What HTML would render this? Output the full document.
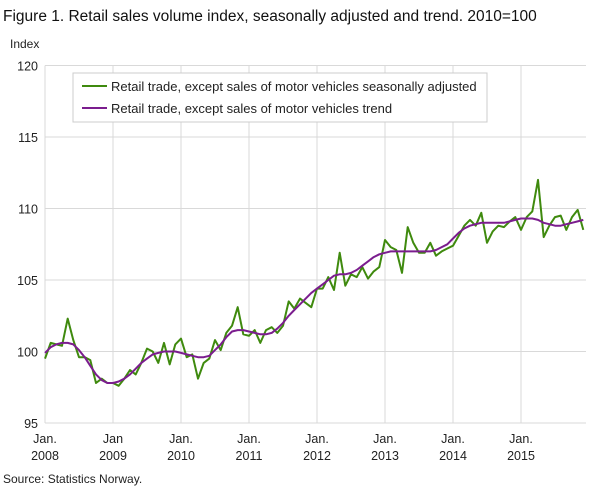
<!DOCTYPE html>
<html><head><meta charset="utf-8"><style>
body{margin:0;background:#fff;width:609px;height:488px;overflow:hidden;font-family:"Liberation Sans",sans-serif;}
</style></head><body>
<svg id="s" width="609" height="488" xmlns="http://www.w3.org/2000/svg" font-family="Liberation Sans, sans-serif">
<text x="3" y="21" font-size="15.5" fill="#111">Figure 1. Retail sales volume index, seasonally adjusted and trend. 2010=100</text>
<text x="10" y="48" font-size="12" fill="#222">Index</text>
<g id="grid" stroke="#d9d9d9" stroke-width="1"></g>
<g id="lab" font-size="12.5" fill="#222"></g>
<rect x="73" y="73" width="414" height="49" fill="#fff" stroke="#ccc"/>
<line x1="82" y1="86" x2="107" y2="86" stroke="#3f8a0e" stroke-width="2"/>
<text x="111" y="91" font-size="13" fill="#222">Retail trade, except sales of motor vehicles seasonally adjusted</text>
<line x1="82" y1="108" x2="107" y2="108" stroke="#7b1d8e" stroke-width="2"/>
<text x="111" y="113" font-size="13" fill="#222">Retail trade, except sales of motor vehicles trend</text>
<g id="ser"></g>
<text x="3" y="483" font-size="12" fill="#222">Source: Statistics Norway.</text>
</svg>
<script>
var NS="http://www.w3.org/2000/svg";
function el(p,t,a,txt){var e=document.createElementNS(NS,t);for(var k in a)e.setAttribute(k,a[k]);if(txt)e.textContent=txt;document.getElementById(p).appendChild(e);return e;}
var L=45,R=586,B=423;function Y(v){return B-(v-95)*14.3;}function X(i){return L+i*68/12;}
for(var v=95;v<=120;v+=5){el("grid","line",{x1:L,x2:R,y1:Y(v),y2:Y(v)});el("lab","text",{x:38,y:Y(v)+5,"text-anchor":"end"},v);}
var yl=["Jan.","Jan","Jan.","Jan.","Jan.","Jan.","Jan.","Jan."];
for(var y=0;y<8;y++){var x=X(y*12);el("grid","line",{x1:x,x2:x,y1:Y(120),y2:B});el("lab","text",{x:x,y:443,"text-anchor":"middle"},yl[y]);el("lab","text",{x:x,y:460,"text-anchor":"middle"},2008+y);}
el("grid","line",{x1:L,x2:L,y1:Y(120),y2:B});
var g=[99.5,100.6,100.5,100.4,102.3,100.8,99.6,99.6,99.4,97.8,98.1,97.8,
97.8,97.6,98.1,98.7,98.4,99.2,100.2,100.0,99.2,100.6,99.1,100.5,
100.9,99.6,99.8,98.1,99.2,99.5,100.8,100.1,101.3,101.8,103.1,101.2,
101.1,101.5,100.6,101.5,101.7,101.3,101.8,103.5,103.0,103.7,103.4,103.1,
104.4,104.4,105.2,104.3,106.9,104.6,105.4,105.2,105.9,105.1,105.6,105.9,
107.8,107.3,107.1,105.5,108.7,107.6,106.9,106.9,107.6,106.7,107.0,107.2,
107.4,108.1,108.8,109.2,108.8,109.7,107.6,108.4,108.8,108.7,109.1,109.4,
108.5,109.4,109.8,112.0,108.0,108.8,109.4,109.5,108.5,109.4,109.9,108.5];
var t=[99.9,100.3,100.5,100.6,100.6,100.5,100.1,99.6,99.0,98.4,98.0,97.8,
97.8,97.9,98.1,98.4,98.8,99.2,99.5,99.8,99.9,100.0,100.0,100.0,
99.9,99.8,99.7,99.6,99.6,99.7,100.1,100.5,101.0,101.4,101.5,101.5,
101.4,101.3,101.2,101.2,101.3,101.6,102.0,102.5,102.9,103.3,103.7,104.1,
104.4,104.7,105.0,105.3,105.4,105.4,105.5,105.7,106.0,106.3,106.6,106.8,
106.9,107.0,107.0,107.0,107.0,107.0,107.0,107.0,107.0,107.1,107.3,107.5,
107.9,108.3,108.6,108.8,108.9,109.0,109.0,109.0,109.0,109.0,109.1,109.2,
109.3,109.3,109.3,109.2,109.0,108.9,108.8,108.8,108.9,109.0,109.1,109.2];
function pts(a){return a.map(function(v,i){return X(i).toFixed(1)+","+Y(v).toFixed(1);}).join(" ");}
el("ser","polyline",{points:pts(g),fill:"none",stroke:"#3f8a0e","stroke-width":2,"stroke-linejoin":"round"});
el("ser","polyline",{points:pts(t),fill:"none",stroke:"#7b1d8e","stroke-width":2,"stroke-linejoin":"round"});
</script>
</body></html>
